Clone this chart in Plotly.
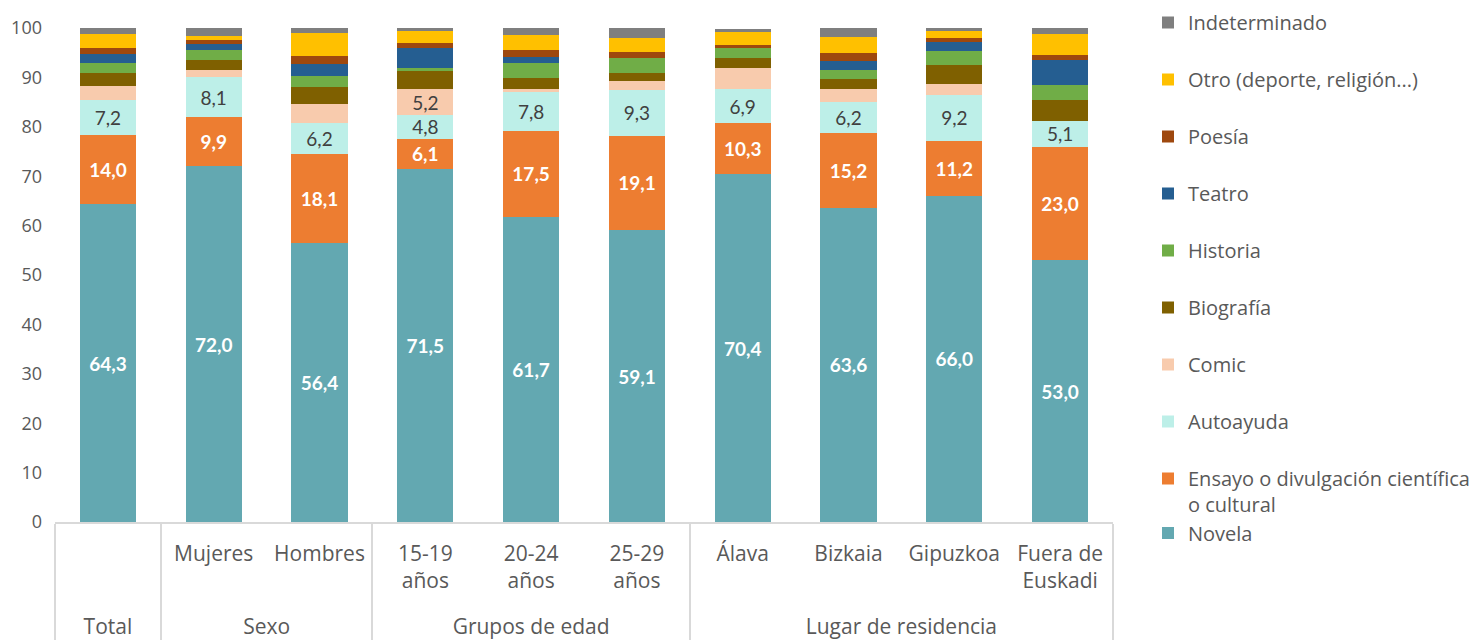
import plotly.graph_objects as go

groups = ["Total", "Sexo", "Sexo", "Grupos de edad", "Grupos de edad", "Grupos de edad",
          "Lugar de residencia", "Lugar de residencia", "Lugar de residencia", "Lugar de residencia"]
categories = [" <br> <br> ", "Mujeres", "Hombres", "15-19<br>años", "20-24<br>años", "25-29<br>años",
              "Álava", "Bizkaia", "Gipuzkoa", "Fuera de<br>Euskadi"]

novela = [64.3, 72.0, 56.4, 71.5, 61.7, 59.1, 70.4, 63.6, 66.0, 53.0]
ensayo = [14.0, 9.9, 18.1, 6.1, 17.5, 19.1, 10.3, 15.2, 11.2, 23.0]
autoayuda = [7.2, 8.1, 6.2, 4.8, 7.8, 9.3, 6.9, 6.2, 9.2, 5.1]
comic = [2.7, 1.4, 4.0, 5.2, 0.7, 1.7, 4.4, 2.7, 2.3, 0.0]
biografia = [2.7, 2.1, 3.3, 3.7, 2.1, 1.7, 2.0, 1.9, 3.9, 4.3]
historia = [2.0, 2.1, 2.3, 0.7, 3.2, 3.1, 1.9, 1.9, 2.7, 3.0]
teatro = [1.8, 1.2, 2.5, 3.9, 1.2, 0.0, 0.0, 1.8, 1.9, 5.1]
poesia = [1.2, 0.7, 1.6, 1.1, 1.4, 1.1, 0.7, 1.6, 0.7, 1.0]
otro = [2.8, 0.8, 4.6, 2.4, 2.9, 2.9, 2.5, 3.3, 1.4, 4.3]
indeterminado = [1.3, 1.7, 1.0, 0.6, 1.5, 2.0, 0.7, 1.8, 0.7, 1.2]

series = [
    ("Novela", novela, "#63A8B1", "all", "white", True),
    ("Ensayo o divulgación científica<br>o cultural", ensayo, "#ED7D31", "all", "white", True),
    ("Autoayuda", autoayuda, "#BDEFE8", "all", "#404040", False),
    ("Comic", comic, "#F8CBAD", [3], "#404040", False),
    ("Biografía", biografia, "#7F6000", None, None, False),
    ("Historia", historia, "#70AD47", None, None, False),
    ("Teatro", teatro, "#255E91", None, None, False),
    ("Poesía", poesia, "#9E480E", None, None, False),
    ("Otro (deporte, religión...)", otro, "#FFC000", None, None, False),
    ("Indeterminado", indeterminado, "#7F7F7F", None, None, False),
]

FONT = "Open Sans, sans-serif"
LABEL_FONT = "Lato, sans-serif"
GRAY = "#595959"

W, H = 1478, 640

fig = go.Figure()
n = len(series)
for i, (name, vals, color, show, tcolor, bold) in enumerate(series):
    if show == "all":
        idx = range(len(vals))
    elif show is None:
        idx = []
    else:
        idx = show
    txt = [(f"{v:.1f}".replace(".", ",") if j in idx else "") for j, v in enumerate(vals)]
    if bold:
        txt = [f"<b>{t}</b>" if t else "" for t in txt]
    fig.add_trace(go.Bar(
        x=[groups, categories], y=vals, name=name,
        marker=dict(color=color, line=dict(width=0)),
        text=txt, textposition="inside", insidetextanchor="middle", textangle=0,
        constraintext="none",
        textfont=dict(color=tcolor or "white", size=19, family=LABEL_FONT),
        legendgroup=name, legendrank=n - i,
        legend="legend2" if name == "Novela" else "legend",
        hoverinfo="x+y+name",
    ))

fig.update_layout(
    width=W, height=H,
    barmode="stack", bargap=0.47,
    separators=",.",
    plot_bgcolor="white", paper_bgcolor="white",
    margin=dict(l=47, r=373, t=20, b=126),
    font=dict(family=FONT, size=20, color=GRAY),
    legend=dict(traceorder="grouped", tracegroupgap=28,
                xref="container", yref="container",
                x=1140 / W, xanchor="left", y=0.2 - 4 / H, yanchor="bottom",
                maxheight=H,
                font=dict(size=20, color=GRAY, family=FONT), valign="top",
                bgcolor="rgba(0,0,0,0)"),
    legend2=dict(xref="container", yref="container",
                 x=1140 / W, xanchor="left", y=1 - 525 / H, yanchor="middle",
                 font=dict(size=20, color=GRAY, family=FONT),
                 bgcolor="rgba(0,0,0,0)"),
    showlegend=True,
)
fig.update_yaxes(range=[0, 100], dtick=10, showgrid=False, zeroline=False,
                 showline=False, ticks="", ticklabelstandoff=12, automargin=False,
                 tickfont=dict(size=18, color=GRAY, family=FONT))
fig.update_xaxes(type="multicategory", showline=True, linecolor="#D9D9D9", linewidth=1.5,
                 showdividers=True, dividercolor="#D9D9D9", dividerwidth=1.5,
                 automargin=False, ticklabelstandoff=12,
                 ticks="", tickfont=dict(size=21, color=GRAY, family=FONT), showgrid=False)

fig.write_html("out.html")
